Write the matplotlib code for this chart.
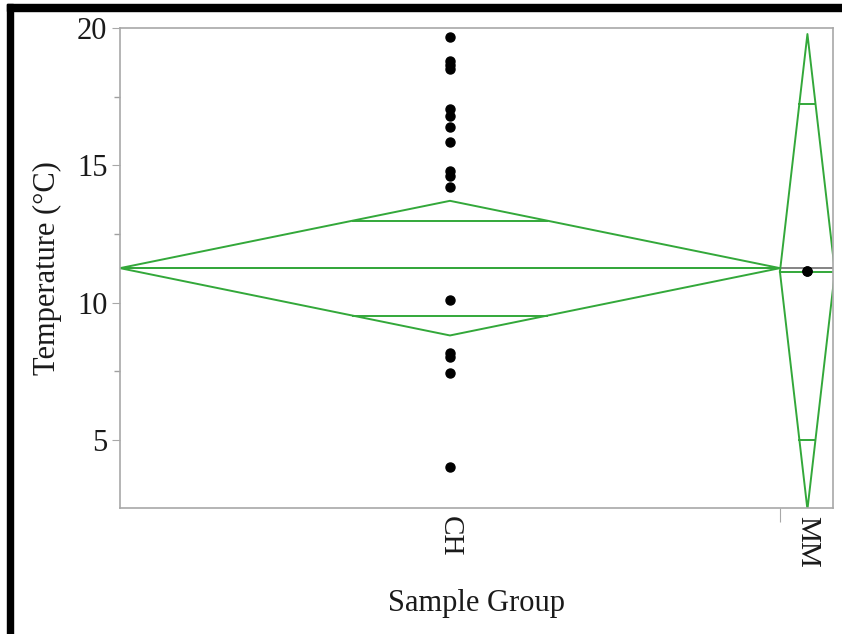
import numpy as np
import matplotlib
matplotlib.use("Agg")
import matplotlib.pyplot as plt
from matplotlib.patches import Rectangle

# ---- data ----
groups = ["CH", "MM"]
group_sizes = [24, 2]                 # relative x-widths of the groups
ch_values = [19.66, 18.80, 18.65, 18.51, 17.05, 16.80, 16.41, 15.86,
             14.79, 14.61, 14.20, 10.10, 8.17, 8.02, 7.44, 4.02]
mm_values = [11.15, 11.15]
group_means = [11.26, 11.13]
ci_halfwidths = [2.45, 8.65]
grand_mean = 11.25
y_ticks = [5, 10, 15, 20]
y_minor = [7.5, 12.5, 17.5]

W, H = 842, 634
fig = plt.figure(figsize=(W / 100, H / 100), dpi=100)
ax = fig.add_axes([120 / W, 1 - 508 / H, (833 - 120) / W, (508 - 28) / H])

green = "#33A83A"
serif = ["Liberation Serif", "DejaVu Serif"]
txt = "#1a1a1a"

edges = np.concatenate([[0], np.cumsum(group_sizes)])
centers = (edges[:-1] + edges[1:]) / 2

# grand mean line
ax.axhline(grand_mean, color="#707070", lw=1.2, zorder=1)

values = [ch_values, mm_values]
for i in range(len(groups)):
    a, b, c = edges[i], edges[i + 1], centers[i]
    m, h = group_means[i], ci_halfwidths[i]
    ax.plot([a, c, b, c, a], [m, m + h, m, m - h, m], color=green, lw=1.4, zorder=2)
    ax.plot([a, b], [m, m], color=green, lw=1.4, zorder=2)
    f = 1 - 1 / np.sqrt(2)
    for s in (1, -1):
        y = m + s * h / np.sqrt(2)
        ax.plot([c - f * (c - a), c + f * (b - c)], [y, y], color=green, lw=1.4, zorder=2)
    ax.plot([c] * len(values[i]), values[i], "o", color="black", ms=6.5, zorder=3)

ax.set_xlim(0, edges[-1] - 0.07)
ax.set_ylim(2.53, 20)

# axes styling
for sp in ax.spines.values():
    sp.set_color("#A8A8A8")
    sp.set_linewidth(1.2)

ax.set_yticks(y_ticks)
ax.set_yticks(y_minor, minor=True)
ax.set_yticklabels([str(t) for t in y_ticks], fontfamily=serif, fontsize=22, color=txt)
ax.tick_params(axis="y", which="major", length=6, color="#A8A8A8", pad=3)
ax.tick_params(axis="y", which="minor", length=4, width=1.0, color="#A0A0A0")

ax.set_xticks(edges[1:-1])
ax.set_xticklabels([])
ax.tick_params(axis="x", which="major", length=10, color="#A8A8A8")
ax.set_xticks(centers, minor=True)
ax.set_xticklabels(groups, minor=True, rotation=-90, fontfamily=serif, fontsize=21,
                   color=txt)
ax.tick_params(axis="x", which="minor", length=0, pad=6)

ax.set_ylabel("Temperature (°C)", fontfamily=serif, fontsize=22, color=txt, labelpad=11)
ax.set_xlabel("Sample Group", fontfamily=serif, fontsize=22, color=txt, labelpad=15)

# black frame (top and left) as in the reference crop
fig.patches.append(Rectangle((7 / W, 0), 6 / W, 1 - 4 / H, transform=fig.transFigure,
                             color="black", zorder=10))
fig.patches.append(Rectangle((7 / W, 1 - 11 / H), 1 - 7 / W, 7 / H, transform=fig.transFigure,
                             color="black", zorder=10))

fig.savefig("out.png", dpi=100)
